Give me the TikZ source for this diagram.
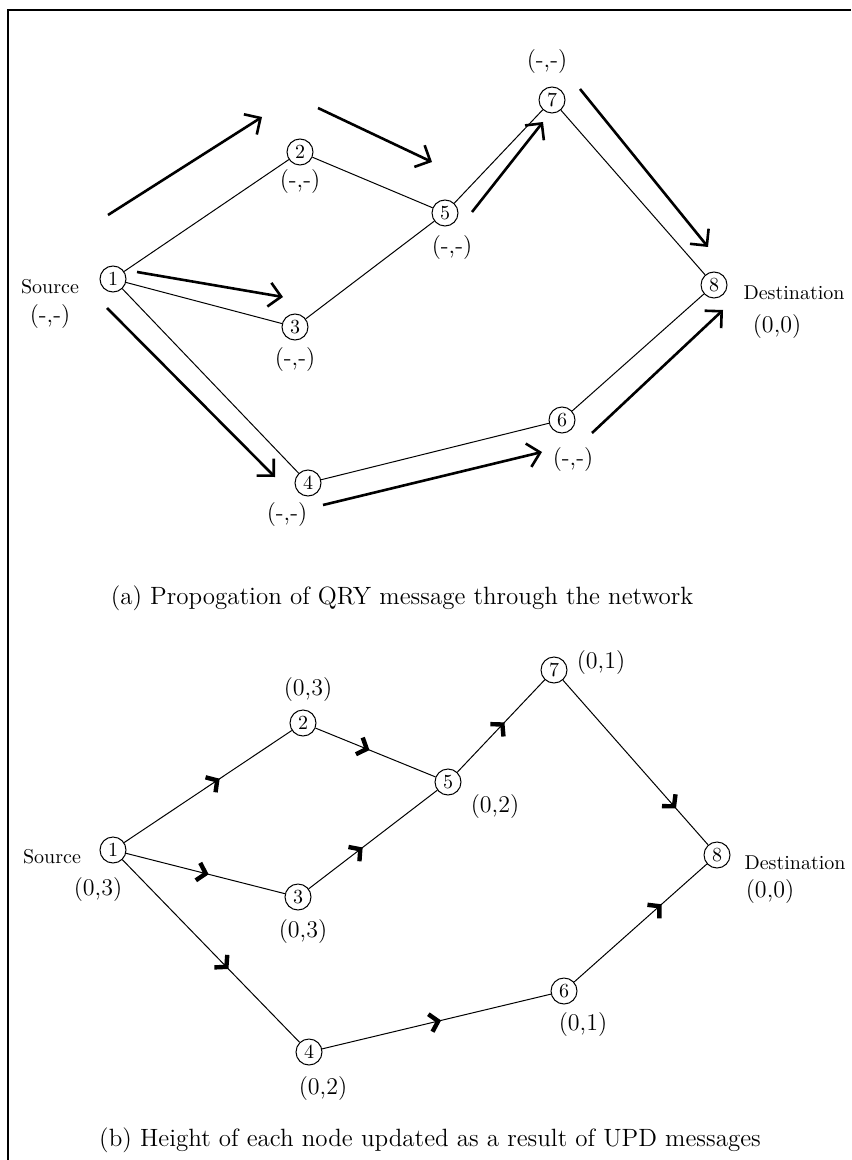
\documentclass[tikz,border=0pt]{standalone}
\usetikzlibrary{arrows.meta,decorations.markings}

\tikzset{
  nd/.style={draw, circle, line width=0.5pt, inner sep=0pt, minimum size=13pt, font=\fontsize{10}{10}\selectfont},
  lbl/.style={inner sep=0pt, font=\fontsize{12}{12}\selectfont},
  side/.style={inner sep=0pt, font=\fontsize{10}{10}\selectfont},
  capt/.style={inner sep=0pt, font=\fontsize{12.5}{14}\selectfont},
  link/.style={line width=0.5pt},
  qry/.style={line width=1.3pt, -{Straight Barb[length=6pt,width=12pt,line width=1.3pt]}},
  upd/.style={link, postaction={decorate}, decoration={markings, mark=at position #1 with {\arrow{Straight Barb[length=4pt,width=9pt,line width=2.2pt]}}}}
}

\begin{document}
\begin{tikzpicture}[x=0.5pt, y=-0.5pt]

\useasboundingbox (0,0) rectangle (851,1160);
\draw[line width=1pt] (8,1160) -- (8,10) -- (851,10);

% (a) QRY
\node[nd] (a1) at (113,279) {1};
\node[nd] (a2) at (300,152) {2};
\node[nd] (a3) at (295,327) {3};
\node[nd] (a4) at (308,483) {4};
\node[nd] (a5) at (445,213) {5};
\node[nd] (a6) at (562,420) {6};
\node[nd] (a7) at (552,100) {7};
\node[nd] (a8) at (714,285) {8};

\draw[link] (a1) -- (a2);
\draw[link] (a2) -- (a5);
\draw[link] (a1) -- (a3);
\draw[link] (a3) -- (a5);
\draw[link] (a5) -- (a7);
\draw[link] (a7) -- (a8);
\draw[link] (a1) -- (a4);
\draw[link] (a4) -- (a6);
\draw[link] (a6) -- (a8);

\coordinate (q1) at (108,215);  \coordinate (q1e) at (262,117);
\coordinate (q2) at (318,108);  \coordinate (q2e) at (432,162);
\coordinate (q3) at (137,272);  \coordinate (q3e) at (283,297);
\coordinate (q4) at (107,308);  \coordinate (q4e) at (275,477);
\coordinate (q5) at (323,505);  \coordinate (q5e) at (542,452);
\coordinate (q6) at (592,433);  \coordinate (q6e) at (723,310);
\coordinate (q7) at (472,212);  \coordinate (q7e) at (543,122);
\coordinate (q8) at (580,89);   \coordinate (q8e) at (708,247);

\draw[qry] (q1) -- (q1e);
\draw[qry] (q2) -- (q2e);
\draw[qry] (q3) -- (q3e);
\draw[qry] (q4) -- (q4e);
\draw[qry] (q5) -- (q5e);
\draw[qry] (q6) -- (q6e);
\draw[qry] (q7) -- (q7e);
\draw[qry] (q8) -- (q8e);

\node[side] (sa) at (50,287) {Source};
\node[lbl] (ha1) at (50,317) {(-,-)};
\node[lbl] (ha2) at (300,182) {(-,-)};
\node[lbl] (ha3) at (295,360) {(-,-)};
\node[lbl] (ha4) at (287,515) {(-,-)};
\node[lbl] (ha5) at (452,248) {(-,-)};
\node[lbl] (ha6) at (573,460) {(-,-)};
\node[lbl] (ha7) at (547,62) {(-,-)};
\node[side] (da) at (794,293) {Destination};
\node[lbl] (ha8) at (777,327) {(0,0)};

\node[capt] (ca) at (402,598) {(a) Propogation of QRY message through the network};

% (b) UPD
\node[nd] (b1) at (113,850) {1};
\node[nd] (b2) at (303,723) {2};
\node[nd] (b3) at (298,897) {3};
\node[nd] (b4) at (309,1052) {4};
\node[nd] (b5) at (448,782) {5};
\node[nd] (b6) at (564,991) {6};
\node[nd] (b7) at (554,670) {7};
\node[nd] (b8) at (717,855) {8};

\draw[upd=0.57] (b1) -- (b2);
\draw[upd=0.45] (b2) -- (b5);
\draw[upd=0.52] (b1) -- (b3);
\draw[upd=0.42] (b3) -- (b5);
\draw[upd=0.54] (b5) -- (b7);
\draw[upd=0.78] (b7) -- (b8);
\draw[upd=0.6] (b1) -- (b4);
\draw[upd=0.52] (b4) -- (b6);
\draw[upd=0.66] (b6) -- (b8);

\node[side] (sb) at (52,857) {Source};
\node[lbl] (hb1) at (98,890) {(0,3)};
\node[lbl] (hb2) at (308,690) {(0,3)};
\node[lbl] (hb3) at (303,932) {(0,3)};
\node[lbl] (hb4) at (323,1088) {(0,2)};
\node[lbl] (hb5) at (495,807) {(0,2)};
\node[lbl] (hb6) at (583,1024) {(0,1)};
\node[lbl] (hb7) at (601,663) {(0,1)};
\node[side] (db) at (795,863) {Destination};
\node[lbl] (hb8) at (770,892) {(0,0)};

\node[capt] (cb) at (430,1140) {(b) Height of each node updated as a result of UPD messages};

\end{tikzpicture}
\end{document}
